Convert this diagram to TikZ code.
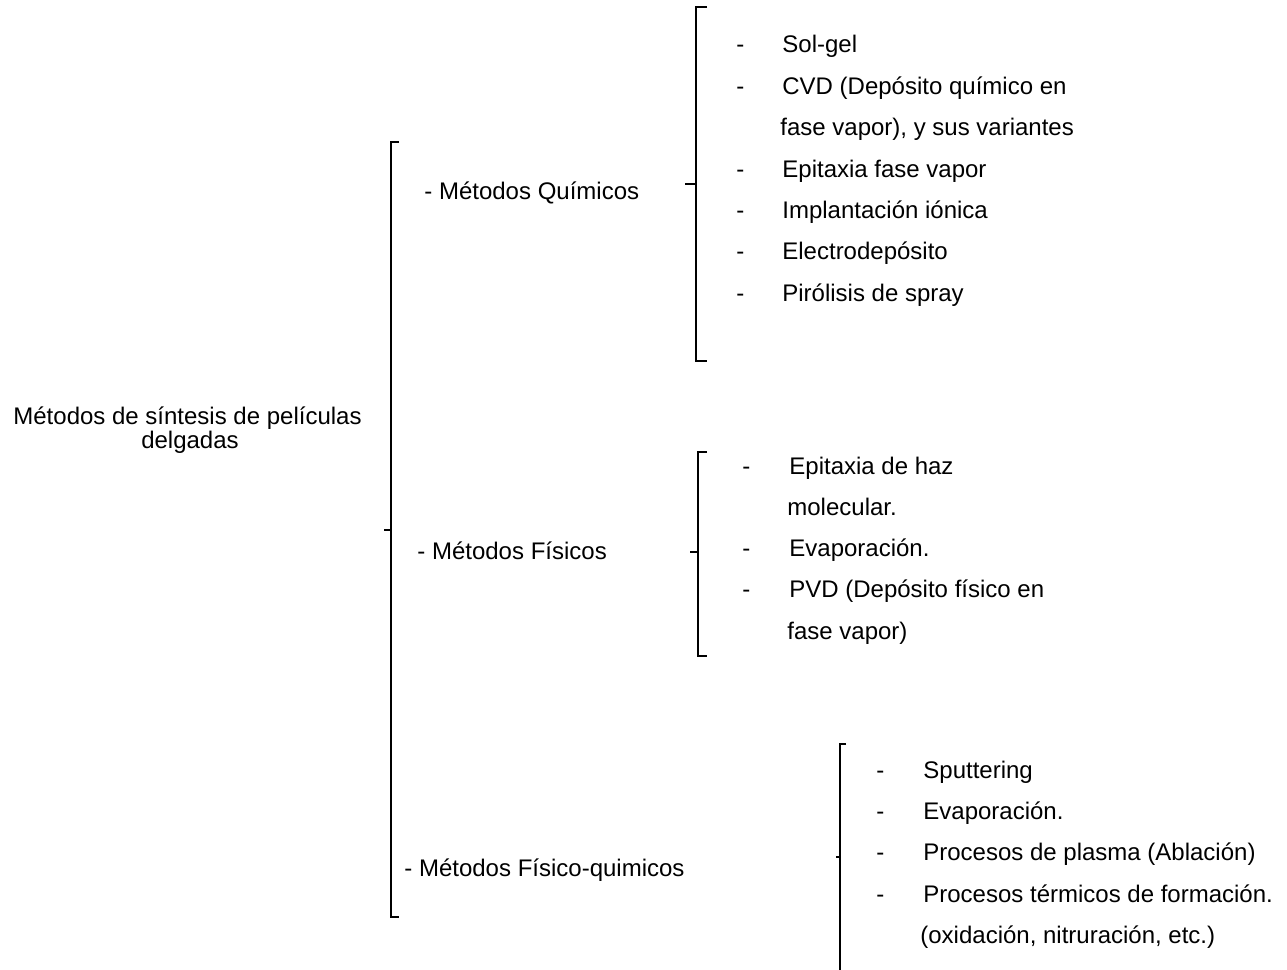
\documentclass[tikz,border=0pt]{standalone}
\usepackage{fontspec}
\setmainfont{Liberation Sans}
\begin{document}
\begin{tikzpicture}[x=0.5pt,y=-0.5pt,
  lbl/.style={inner sep=0pt,anchor=base west,font=\fontsize{12}{14}\selectfont},
  ttl/.style={inner sep=0pt,anchor=base,font=\fontsize{12}{14}\selectfont},
  brk/.style={line width=0.7pt}]
\useasboundingbox (0,0) rectangle (1287,970);
% title
\node[ttl] (t1) at (187.5,424) {Métodos de síntesis de películas};
\node[ttl] (t2) at (190,448) {delgadas};
% main bracket
\coordinate (mT) at (391,142);
\coordinate (mB) at (391,917);
\coordinate (mM) at (391,530);
\coordinate (mTe) at (399,142);
\coordinate (mBe) at (399,917);
\coordinate (mMe) at (384,530);
\draw[brk] (mTe) -- (mT) -- (mB) -- (mBe);
\draw[brk] (mMe) -- (mM);
% categories
\node[lbl] (cq) at (424,199.5) {- Métodos Químicos};
\node[lbl] (cf) at (417,559.5) {- Métodos Físicos};
\node[lbl] (cfq) at (404,876.5) {- Métodos Físico-quimicos};
% chemical bracket
\coordinate (qT) at (696,7);
\coordinate (qB) at (696,361);
\coordinate (qM) at (696,184);
\coordinate (qTe) at (707,7);
\coordinate (qBe) at (707,361);
\coordinate (qMe) at (685,184);
\draw[brk] (qTe) -- (qT) -- (qB) -- (qBe);
\draw[brk] (qMe) -- (qM);
% physical bracket
\coordinate (fT) at (698,452);
\coordinate (fB) at (698,656);
\coordinate (fM) at (698,552);
\coordinate (fTe) at (707,452);
\coordinate (fBe) at (707,656);
\coordinate (fMe) at (690,552);
\draw[brk] (fTe) -- (fT) -- (fB) -- (fBe);
\draw[brk] (fMe) -- (fM);
% physico-chemical bracket
\coordinate (pT) at (840,744);
\coordinate (pB) at (840,972);
\coordinate (pM) at (840,857);
\coordinate (pTe) at (846,744);
\coordinate (pMe) at (836,857);
\draw[brk] (pTe) -- (pT) -- (pB);
\draw[brk] (pMe) -- (pM);
% chemical items
\node[lbl] (qd1) at (736,52.5) {-};
\node[lbl] (q1) at (782,52.5) {Sol-gel};
\node[lbl] (qd2) at (736,94.5) {-};
\node[lbl] (q2) at (782,94.5) {CVD (Depósito químico en};
\node[lbl] (q3) at (780,135.5) {fase vapor), y sus variantes};
\node[lbl] (qd4) at (736,177.5) {-};
\node[lbl] (q4) at (782,177.5) {Epitaxia fase vapor};
\node[lbl] (qd5) at (736,218.5) {-};
\node[lbl] (q5) at (782,218.5) {Implantación iónica};
\node[lbl] (qd6) at (736,259.5) {-};
\node[lbl] (q6) at (782,259.5) {Electrodepósito};
\node[lbl] (qd7) at (736,301.5) {-};
\node[lbl] (q7) at (782,301.5) {Pirólisis de spray};
% physical items
\node[lbl] (fd1) at (742,474.5) {-};
\node[lbl] (f1) at (789,474.5) {Epitaxia de haz};
\node[lbl] (f2) at (787,515.5) {molecular.};
\node[lbl] (fd3) at (742,556.5) {-};
\node[lbl] (f3) at (789,556.5) {Evaporación.};
\node[lbl] (fd4) at (742,597.5) {-};
\node[lbl] (f4) at (789,597.5) {PVD (Depósito físico en};
\node[lbl] (f5) at (787,639.5) {fase vapor)};
% physico-chemical items
\node[lbl] (pd1) at (876,778.5) {-};
\node[lbl] (p1) at (923,778.5) {Sputtering};
\node[lbl] (pd2) at (876,819.5) {-};
\node[lbl] (p2) at (923,819.5) {Evaporación.};
\node[lbl] (pd3) at (876,860.5) {-};
\node[lbl] (p3) at (923,860.5) {Procesos de plasma (Ablación)};
\node[lbl] (pd4) at (876,902.5) {-};
\node[lbl] (p4) at (923,902.5) {Procesos térmicos de formación.};
\node[lbl] (p5) at (920,943.5) {(oxidación, nitruración, etc.)};
\end{tikzpicture}
\end{document}
